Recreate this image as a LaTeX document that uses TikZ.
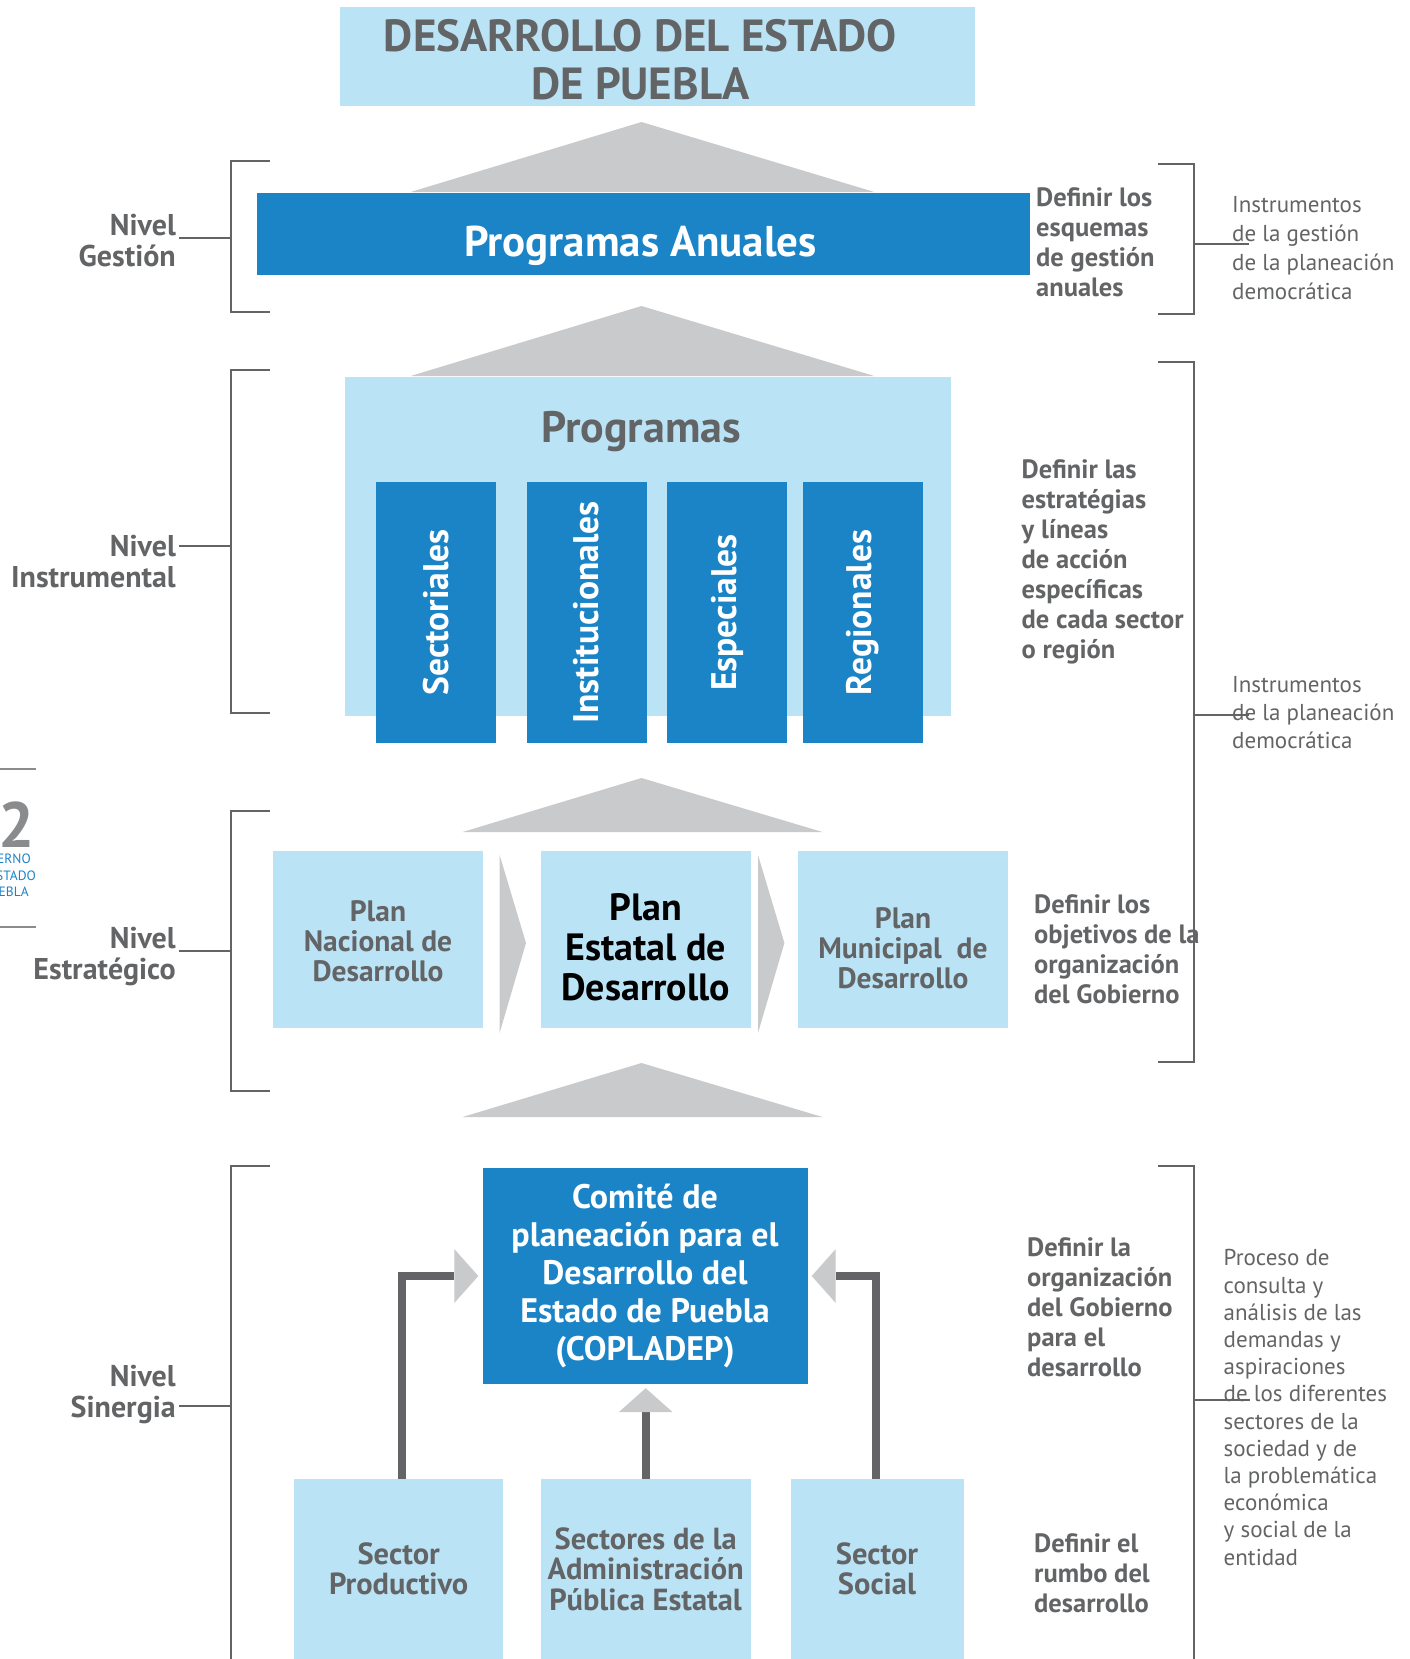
\documentclass[tikz,border=0pt]{standalone}
\usepackage{fontspec}
\setmainfont{PT Sans}
\usepackage{tikz}
\usetikzlibrary{arrows.meta}

\definecolor{celeste}{HTML}{BBE3F6}
\definecolor{azul}{HTML}{1B84C6}
\definecolor{gristxt}{HTML}{636466}
\definecolor{gristri}{HTML}{C9CACC}
\definecolor{grislin}{HTML}{646466}
\definecolor{grisnum}{HTML}{8A8B8D}
\newcommand{\fs}[2]{\fontsize{#1}{#2}\selectfont}

\begin{document}
\begin{tikzpicture}[x=1pt,y=-1pt]
\tikzstyle{caja}=[fill=celeste,inner sep=0pt,align=center,text=gristxt,font=\bfseries\fs{29.5}{30}]
\tikzstyle{oscura}=[fill=azul,inner sep=0pt,align=center,text=white,font=\bfseries\fs{34}{38}]
\tikzstyle{texto}=[inner sep=0pt,align=center,text=gristxt,font=\bfseries\fs{29.5}{30}]
\tikzstyle{nivel}=[anchor=east,align=right,inner sep=3pt,text=gristxt,font=\bfseries\fs{30}{31}]
\tikzstyle{defi}=[anchor=west,align=left,inner sep=0pt,text=gristxt,font=\bfseries\fs{26.5}{30}]
\tikzstyle{inst}=[anchor=west,align=left,inner sep=0pt,text=gristxt,font=\fs{23}{29}]
\tikzstyle{brk}=[draw=grislin,line width=2.5pt]
\tikzstyle{flecha}=[draw=grislin,line width=8pt,shorten >=4pt,-{Triangle[color=gristri,width=54pt,length=24pt,line width=0pt]}]

\useasboundingbox (0,0) rectangle (1410,1659);

\draw[grisnum,line width=1.5pt] (0,769) -- (36,769);
\draw[grisnum,line width=1.5pt] (0,927) -- (36,927);
\node[anchor=base east,inner sep=0pt,text=grisnum,font=\bfseries\fs{64}{64}] (num) at (35,847) {2};
\node[anchor=base east,inner sep=0pt,text=azul,font=\fs{13.5}{13}] (pie1) at (31,863) {BIERNO};
\node[anchor=base east,inner sep=0pt,text=azul,font=\fs{13.5}{13}] (pie2) at (36,880) {ESTADO};
\node[anchor=base east,inner sep=0pt,text=azul,font=\fs{13.5}{13}] (pie3) at (29,896) {PUEBLA};

\node[caja,minimum width=635pt,minimum height=99pt] (tit) at (657.5,56.5) {};
\node[texto,font=\bfseries\fs{45}{48}] (titt) at (640.5,60) {DESARROLLO DEL ESTADO\\DE PUEBLA};

\fill[gristri] (410.7,192) -- (641.5,122) -- (874.3,192) -- cycle;
\node[oscura,minimum width=773pt,minimum height=82pt] (anual) at (643.5,234) {};
\node[texto,text=white,font=\bfseries\fs{43}{44}] (anualt) at (640.5,245.5) {Programas Anuales};

\fill[gristri] (410.7,376) -- (641.5,306) -- (874.3,376) -- cycle;
\node[caja,minimum width=606pt,minimum height=339pt] (prog) at (648,546.5) {};
\node[texto,font=\bfseries\fs{44}{44}] (progt) at (641,432) {Programas};
\node[oscura,rotate=90,minimum width=261pt,minimum height=120pt,font=\bfseries\fs{35.5}{36}] (sec) at (436,612.5) {Sectoriales};
\node[oscura,rotate=90,minimum width=261pt,minimum height=120pt,font=\bfseries\fs{35.5}{36}] (ins) at (586.5,612.5) {Institucionales};
\node[oscura,rotate=90,minimum width=261pt,minimum height=120pt,font=\bfseries\fs{35.5}{36}] (esp) at (727,612.5) {Especiales};
\node[oscura,rotate=90,minimum width=261pt,minimum height=120pt,font=\bfseries\fs{35.5}{36}] (reg) at (863,612.5) {Regionales};

\fill[gristri] (462.6,832) -- (641.5,778) -- (822.5,832) -- cycle;
\node[caja,minimum width=210pt,minimum height=177pt] (nac) at (378,939.5) {};
\node[texto] (nact) at (378,941.5) {Plan\\Nacional de\\Desarrollo};
\node[caja,minimum width=210pt,minimum height=177pt] (est) at (645.7,939.5) {};
\node[texto,text=black,font=\bfseries\fs{38}{40}] (estt) at (645.7,947) {Plan\\Estatal de\\Desarrollo};
\node[caja,minimum width=210pt,minimum height=177pt] (mun) at (903,939.5) {};
\node[texto] (munt) at (903,948) {Plan\\Municipal~~de\\Desarrollo};
\fill[gristri] (499.6,855) -- (526,943) -- (499.6,1033) -- cycle;
\fill[gristri] (758,855) -- (784.4,943) -- (758,1033) -- cycle;

\fill[gristri] (462.6,1117) -- (641.5,1063) -- (822.5,1117) -- cycle;
\node[oscura,minimum width=325pt,minimum height=216pt] (cop) at (645,1276) {Comité de\\planeación para el\\Desarrollo del\\Estado de Puebla\\(COPLADEP)};
\node[caja,minimum width=209pt,minimum height=180pt,font=\bfseries\fs{30.5}{30.5}] (prod) at (398.7,1569) {Sector\\Productivo};
\node[caja,minimum width=210pt,minimum height=180pt,font=\bfseries\fs{30.5}{30.5}] (adm) at (645.7,1569) {Sectores de la\\Administración\\Pública Estatal};
\node[caja,minimum width=173pt,minimum height=180pt,font=\bfseries\fs{30.5}{30.5}] (soc) at (877,1569) {Sector\\Social};
\draw[flecha] ([xshift=3pt]prod.north) |- (cop.west);
\draw[flecha] ([xshift=-1.5pt]soc.north) |- (cop.east);
\draw[flecha] (adm.north) -- (adm.north |- cop.south);

\node[nivel] (lbG) at (179,241) {Nivel\\Gestión};
\node[nivel] (lbI) at (179,562) {Nivel\\Instrumental};
\node[nivel] (lbE) at (179,957) {Nivel\\Estratégico};
\node[nivel] (lbS) at (179,1394) {Nivel\\Sinergia};
\draw[brk] (270,161) -- (231,161) -- (231,312) -- (270,312);
\draw[brk] (270,370) -- (231,370) -- (231,713) -- (270,713);
\draw[brk] (270,811) -- (231,811) -- (231,1091) -- (270,1091);
\draw[brk] (270,1166) -- (231,1166) -- (231,1670);
\coordinate (bG) at (231,238);
\coordinate (bI) at (231,546);
\coordinate (bE) at (231,951);
\coordinate (bS) at (231,1406);
\draw[brk] (bG) -- (bG -| lbG.east);
\draw[brk] (bI) -- (bI -| lbI.east);
\draw[brk] (bE) -- (bE -| lbE.east);
\draw[brk] (bS) -- (bS -| lbS.east);

\node[defi] (dfG) at (1036,242.5) {Definir los\\esquemas\\de gestión\\anuales};
\node[defi] (dfI) at (1021.5,562) {Definir las\\estratégias\\y líneas\\de acción\\específicas\\de cada sector\\o región};
\node[defi] (dfE) at (1034,949) {Definir los\\objetivos de la\\organización\\del Gobierno};
\node[defi] (dfS) at (1027,1307.5) {Definir la\\organización\\del Gobierno\\para el\\desarrollo};
\node[defi] (dfR) at (1034,1573.5) {Definir el\\rumbo del\\desarrollo};

\node[inst] (inG) at (1232,248) {Instrumentos\\de la gestión\\de la planeación\\democrática};
\node[inst,font=\fs{23}{28}] (inP) at (1232,713) {Instrumentos\\de la planeación\\democrática};
\node[inst,font=\fs{23}{27.2}] (inS) at (1223.5,1407.5) {Proceso de\\consulta y\\análisis de las\\demandas y\\aspiraciones\\de los diferentes\\sectores de la\\sociedad y de\\la problemática\\económica\\y social de la\\entidad};
\draw[brk] (1158,164) -- (1194,164) -- (1194,314) -- (1158,314);
\draw[brk] (1158,362) -- (1194,362) -- (1194,1062) -- (1158,1062);
\draw[brk] (1158,1166) -- (1194,1166) -- (1194,1670);
\coordinate (rG) at (1194,244);
\coordinate (rP) at (1194,715);
\coordinate (rS) at (1194,1400);
\draw[brk] (rG) -- ([xshift=17pt]rG -| inG.west);
\draw[brk] (rP) -- ([xshift=17pt]rP -| inP.west);
\draw[brk] (rS) -- ([xshift=26pt]rS -| inS.west);
\end{tikzpicture}
\end{document}
